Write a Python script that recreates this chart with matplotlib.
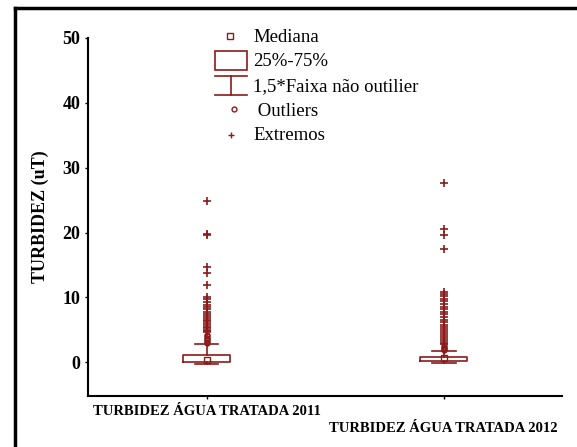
import matplotlib
matplotlib.use("Agg")
import matplotlib.pyplot as plt
from matplotlib.patches import Rectangle
from matplotlib.lines import Line2D

plt.rcParams['font.family'] = ['Liberation Serif', 'DejaVu Serif']

# dados
categorias = ['TURBIDEZ ÁGUA TRATADA 2011', 'TURBIDEZ ÁGUA TRATADA 2012']
mediana = [0.35, 0.7]
q1 = [0.1, 0.25]
q3 = [1.2, 0.86]
whis_lo = [-0.25, -0.15]
whis_hi = [2.9, 1.75]
outliers_2011 = [3.0, 3.2, 3.4, 3.6, 3.8, 4.0, 4.2]
extremos_2011 = [4.6, 4.8, 5.0, 5.3, 5.5, 5.8, 6.0, 6.3, 6.6, 6.9, 7.2, 7.5,
                 7.8, 8.2, 8.6, 8.9, 9.3, 9.7, 10.0, 11.9, 13.7, 14.75,
                 19.6, 19.8, 24.9]
outliers_2012 = [1.9, 2.0, 2.2, 2.4, 2.6]
extremos_2012 = [2.8, 3.0, 3.3, 3.6, 3.9, 4.2, 4.5, 4.8, 5.1, 5.4, 5.8, 6.2,
                 6.6, 7.0, 7.4, 7.8, 8.2, 8.6, 9.0, 9.4, 9.8, 10.2, 10.5, 10.8,
                 17.5, 19.6, 20.5, 27.7]
outliers = [outliers_2011, outliers_2012]
extremos = [extremos_2011, extremos_2012]

cor = '#8b1a1a'

fig = plt.figure(figsize=(5.77, 4.47), dpi=100)
ax = fig.add_axes([0.1525, 0.114, 0.822, 0.801])

stats = []
for i in range(2):
    stats.append(dict(med=mediana[i], q1=q1[i], q3=q3[i],
                      whislo=whis_lo[i], whishi=whis_hi[i], fliers=[]))
pos = [1, 2]
ax.bxp(stats, positions=pos, widths=0.2, showfliers=False,
       boxprops=dict(color=cor, linewidth=1.2),
       whiskerprops=dict(color=cor, linewidth=1.2),
       capprops=dict(color=cor, linewidth=1.2),
       medianprops=dict(linestyle='none'), capwidths=0.1)
ax.plot(pos, mediana, 's', mfc='none', mec=cor, ms=4, mew=1, ls='none')
for i in range(2):
    ax.plot([pos[i]] * len(outliers[i]), outliers[i], 'o', mfc='none',
            mec=cor, ms=3.5, mew=1, ls='none')
    ax.plot([pos[i]] * len(extremos[i]), extremos[i], '+', color=cor,
            ms=5.5, mew=1.2, ls='none')

ax.set_xlim(0.5, 2.5)
ax.set_ylim(-5.2, 50)
ax.set_yticks([0, 10, 20, 30, 40, 50])
ax.set_yticklabels(['0', '10', '20', '30', '40', '50'], fontsize=13,
                   fontweight='bold')
ax.set_xticks(pos)
ax.set_xticklabels(['', ''])
ax.text(1, -6.6, categorias[0], ha='center', va='top', fontsize=10.5,
        fontweight='bold')
ax.text(2, -9.2, categorias[1], ha='center', va='top', fontsize=10.5,
        fontweight='bold')
ax.tick_params(axis='both', length=2, width=1, color='black')
ax.set_ylabel('TURBIDEZ (uT)', fontsize=13, fontweight='bold', labelpad=10)
for s in ['top', 'right']:
    ax.spines[s].set_visible(False)
for s in ['left', 'bottom']:
    ax.spines[s].set_linewidth(1.5)

# legenda desenhada à mão
def fx(px):
    return px / 577.0

def fy(py):
    return 1 - py / 447.0

fig.add_artist(Line2D([fx(230)], [fy(36)], marker='s', mfc='none', mec=cor,
                      ms=4, mew=1, ls='none'))
fig.add_artist(Rectangle((fx(215), fy(70)), fx(32), 19 / 447.0, fill=False,
                         ec=cor, lw=1.2))
fig.add_artist(Line2D([fx(215), fx(247)], [fy(76), fy(76)], color=cor, lw=1.2))
fig.add_artist(Line2D([fx(215), fx(247)], [fy(95), fy(95)], color=cor, lw=1.2))
fig.add_artist(Line2D([fx(231), fx(231)], [fy(76), fy(95)], color=cor, lw=1.2))
fig.add_artist(Line2D([fx(234)], [fy(109)], marker='o', mfc='none', mec=cor,
                      ms=3.5, mew=1, ls='none'))
fig.add_artist(Line2D([fx(231)], [fy(135)], marker='+', color=cor,
                      ms=5, mew=1, ls='none'))
leg_txt = ['Mediana', '25%-75%', '1,5*Faixa não outilier', ' Outliers', 'Extremos']
leg_y = [37, 62, 87, 112, 136]
for t, y in zip(leg_txt, leg_y):
    fig.text(fx(253), fy(y), t, fontsize=13.5, va='center', ha='left')

# moldura
fig.add_artist(Line2D([fx(15), fx(15)], [fy(8), 0], color='black', lw=2.5))
fig.add_artist(Line2D([fx(15), 1], [fy(8), fy(8)], color='black', lw=2.5))

fig.savefig('out.png', dpi=100)
